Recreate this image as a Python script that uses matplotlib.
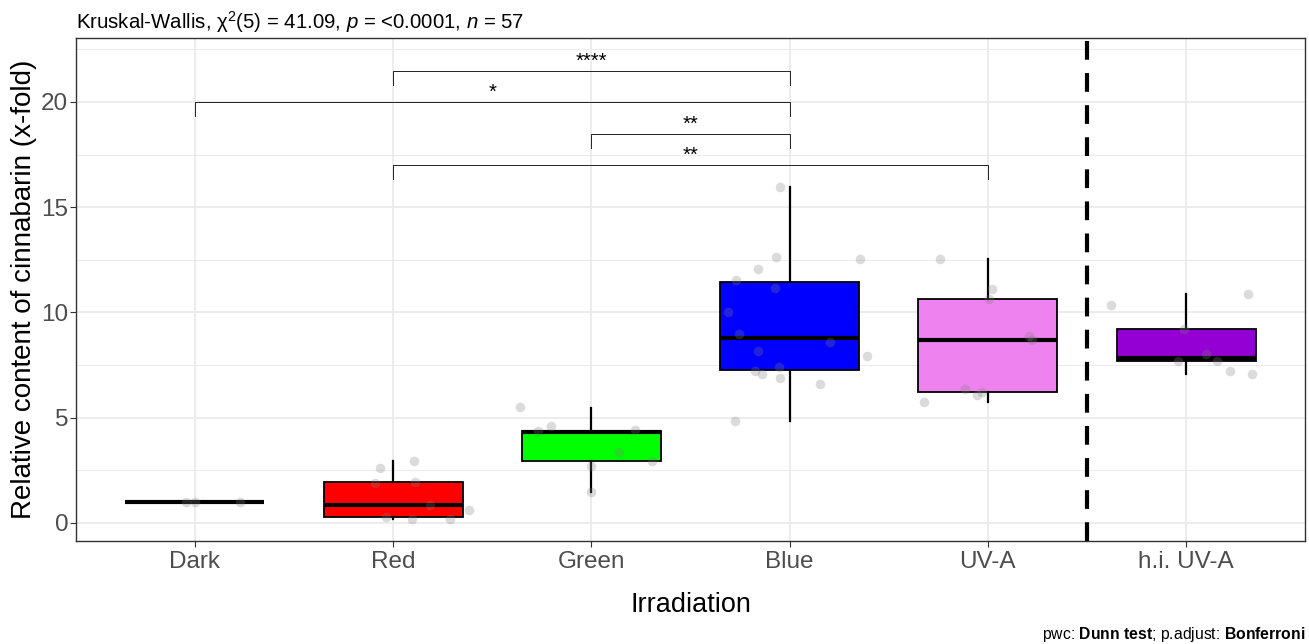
import matplotlib
matplotlib.use("Agg")
import matplotlib.pyplot as plt
import numpy as np

plt.rcParams['font.family'] = ['Liberation Sans', 'DejaVu Sans']
plt.rcParams['mathtext.fontset'] = 'custom'
plt.rcParams['mathtext.rm'] = 'Liberation Sans'
plt.rcParams['mathtext.it'] = 'Liberation Sans:italic'
plt.rcParams['mathtext.bf'] = 'Liberation Sans:bold'

# ---- data ----
categories = ["Dark", "Red", "Green", "Blue", "UV-A", "h.i. UV-A"]
box_colors = ["#FFFFFF", "#FF0000", "#00FF00", "#0000FF", "#EE82EE", "#9400D3"]

q1 = [1.0, 0.30, 2.95, 7.25, 6.24, 7.67]
median = [1.0, 0.87, 4.30, 8.77, 8.69, 7.83]
q3 = [1.0, 1.92, 4.37, 11.45, 10.64, 9.22]
whislo = [1.0, 0.20, 1.46, 4.86, 5.76, 7.07]
whishi = [1.0, 2.95, 5.48, 15.95, 12.53, 10.86]

points_y = [
    [1.0, 1.0, 1.0],
    [2.63, 2.95, 1.89, 1.92, 0.87, 0.62, 0.30, 0.18, 0.18],
    [5.51, 4.58, 4.38, 4.42, 3.36, 2.95, 2.72, 1.46],
    [15.96, 12.64, 12.53, 12.05, 11.54, 11.15, 10.04, 8.98, 8.61, 8.19, 7.93,
     7.43, 7.22, 7.05, 6.86, 6.59, 4.85],
    [12.54, 11.10, 10.64, 8.88, 8.69, 6.35, 6.24, 6.08, 5.76],
    [10.36, 10.88, 9.22, 8.03, 7.67, 7.67, 7.21, 7.06],
]
jitter_x = [
    [-0.047, 0.0, 0.23],
    [-0.065, 0.106, -0.091, 0.111, 0.185, 0.382, -0.035, 0.096, 0.287],
    [-0.362, -0.206, -0.267, 0.221, 0.141, 0.307, 0.0, 0.0],
    [-0.047, -0.067, 0.356, -0.161, -0.273, -0.072, -0.312, -0.253, 0.205,
     -0.161, 0.389, -0.055, -0.176, -0.139, -0.047, 0.151, -0.278],
    [-0.243, 0.022, 0.005, 0.205, 0.223, -0.114, -0.029, -0.055, -0.322],
    [-0.377, 0.314, -0.01, 0.102, -0.04, 0.158, 0.223, 0.334],
]

# pairwise comparisons (group a, group b, label)
comparisons = [
    ("Red", "Blue", "****"),
    ("Dark", "Blue", "*"),
    ("Green", "Blue", "**"),
    ("Red", "UV-A", "**"),
]
bracket_levels = [21.47, 20.0, 18.48, 17.0]

title_text = r"Kruskal-Wallis, χ$^{2}$(5) = 41.09, $p$ = <0.0001, $n$ = 57"
caption_text = r"pwc: $\mathbf{Dunn\ test}$; p.adjust: $\mathbf{Bonferroni}$"

# ---- figure ----
fig = plt.figure(figsize=(13.09, 6.44), dpi=100)
ax = fig.add_axes([0.058, 0.16, 0.939, 0.781])

positions = np.arange(1, len(categories) + 1)
stats = []
for i, c in enumerate(categories):
    stats.append(dict(med=median[i], q1=q1[i], q3=q3[i],
                      whislo=whislo[i], whishi=whishi[i], fliers=[], label=c))

bp = ax.bxp(stats, positions=positions, widths=0.7, patch_artist=True,
            showfliers=False, showcaps=False,
            boxprops=dict(linewidth=1.3, edgecolor="black"),
            whiskerprops=dict(linewidth=1.6, color="black"),
            medianprops=dict(linewidth=3.0, color="black"),
            zorder=3)
for patch, col in zip(bp["boxes"], box_colors):
    patch.set_facecolor(col)

for i in range(len(categories)):
    xs = positions[i] + np.array(jitter_x[i])
    ax.scatter(xs, points_y[i], s=48, color="#808080", alpha=0.28,
               linewidths=0, zorder=4)

# dashed separator
ax.axvline(5.5, color="black", linewidth=3, linestyle=(0, (4.5, 3.2)), zorder=5)

# brackets
tip = 0.66
idx = {c: i + 1 for i, c in enumerate(categories)}
for (a, b, lab), lvl in zip(comparisons, bracket_levels):
    xa, xb = idx[a], idx[b]
    ax.plot([xa, xa, xb, xb], [lvl - tip, lvl, lvl, lvl - tip],
            color="#222222", linewidth=0.7, zorder=6)
    ax.text((xa + xb) / 2, lvl + 0.0, lab, ha="center", va="bottom",
            fontsize=14.5, color="black")

ax.set_xlim(0.4, 6.6)
ax.set_ylim(-0.86, 23.04)
ax.set_xticks(positions)
ax.set_xticklabels(categories)
ax.set_yticks([0, 5, 10, 15, 20])
ax.set_yticks([2.5, 7.5, 12.5, 17.5, 22.5], minor=True)
ax.grid(True, which="major", color="#EBEBEB", linewidth=1.3, zorder=0)
ax.grid(True, which="minor", axis="y", color="#EBEBEB", linewidth=0.7, zorder=0)
ax.set_axisbelow(True)
ax.tick_params(axis="both", which="major", length=4, width=0.8, color="#333333",
               labelsize=17.5, labelcolor="#4D4D4D")
ax.tick_params(axis="y", which="major", pad=1.5)
ax.tick_params(axis="x", which="major", pad=3)
ax.tick_params(axis="y", which="minor", length=0)
for s in ax.spines.values():
    s.set_color("#333333")
    s.set_linewidth(1.0)

ax.set_xlabel("Irradiation", fontsize=19.5, labelpad=14)
ax.set_ylabel("Relative content of cinnabarin (x-fold)", fontsize=20, labelpad=3)

fig.text(0.058, 0.965, title_text, fontsize=14.7, ha="left", va="center")
fig.text(0.997, 0.015, caption_text, fontsize=11.3, ha="right", va="center")

fig.savefig("out.png", dpi=100, facecolor="white")
